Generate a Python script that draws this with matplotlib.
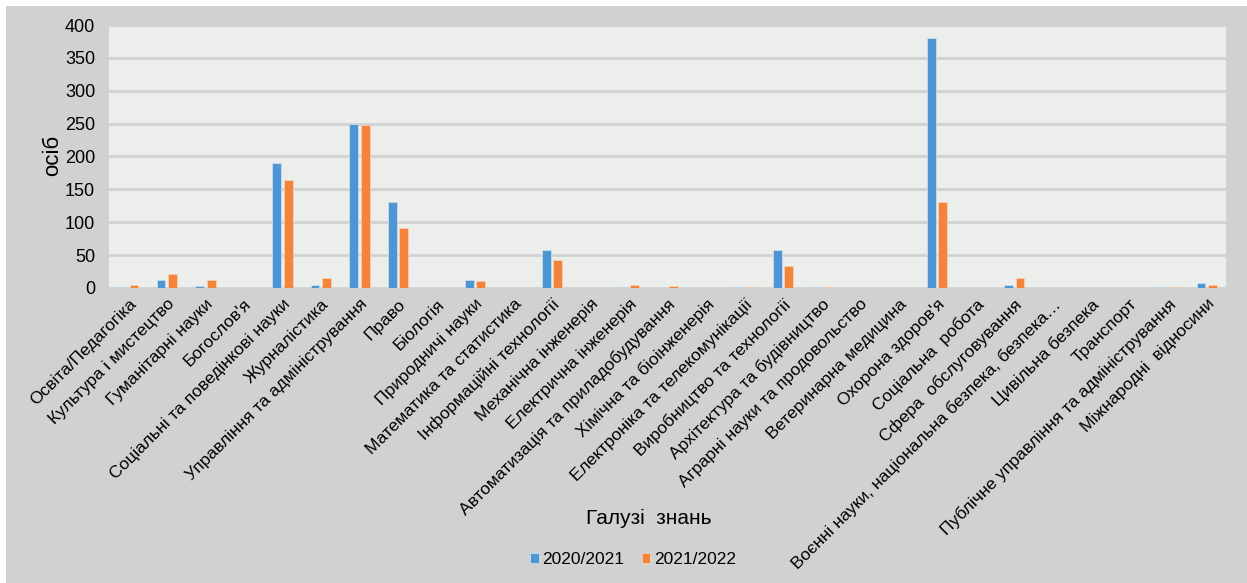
import numpy as np
import matplotlib
matplotlib.use("Agg")
import matplotlib.pyplot as plt

plt.rcParams['font.family'] = ['Liberation Sans', 'DejaVu Sans']

categories = [
    "Освіта/Педагогіка", "Культура і мистецтво", "Гуманітарні науки",
    "Богослов'я", "Соціальні та поведінкові науки", "Журналістика",
    "Управління та адміністрування", "Право", "Біологія", "Природничі науки",
    "Математика та статистика", "Інформаційні технології",
    "Механічна інженерія", "Електрична інженерія",
    "Автоматизація та приладобудування", "Хімічна та біоінженерія",
    "Електроніка та телекомунікації", "Виробництво та технології",
    "Архітектура та будівництво", "Аграрні науки та продовольство",
    "Ветеринарна медицина", "Охорона здоров'я", "Соціальна  робота",
    "Сфера  обслуговування", "Воєнні науки, національна безпека, безпека…",
    "Цивільна безпека", "Транспорт", "Публічне управління та адміністрування",
    "Міжнародні  відносини",
]
y2020 = [1, 12, 3, 0, 190, 5, 250, 131, 0, 12, 0, 58, 0, 1, 0, 0, 1, 58,
         1, 0, 0, 380, 0, 5, 0, 0, 0, 1, 8]
y2021 = [5, 22, 12, 0, 165, 15, 248, 92, 0, 10, 0, 42, 0, 5, 3, 0, 1, 34,
         1, 0, 0, 131, 0, 15, 0, 0, 0, 1, 5]
series_names = ["2020/2021", "2021/2022"]

W, H = 1247, 583
fig = plt.figure(figsize=(W / 100, H / 100), dpi=100)
fig.patch.set_facecolor("white")

# grey chart panel behind everything
bg = fig.add_axes([6 / W, 0, 1 - 6 / W, 1 - 6 / H], zorder=-1)
bg.set_facecolor("#d0d2d1")
bg.set_xticks([])
bg.set_yticks([])
for s in bg.spines.values():
    s.set_visible(False)

ax = fig.add_axes([109 / W, 1 - 288 / H, (1226 - 109) / W, (288 - 25) / H])
ax.set_facecolor("#eceeeb")

x = np.arange(len(categories))
bw = 0.23
ax.bar(x - 0.15, y2020, bw, color="#4e95d4", edgecolor="#c9ddef",
       linewidth=0.6, label=series_names[0], zorder=3)
ax.bar(x + 0.15, y2021, bw, color="#f4843c", edgecolor="#f7cfb3",
       linewidth=0.6, label=series_names[1], zorder=3)

ax.set_xlim(-0.5, len(categories) - 0.5)
ax.set_ylim(0, 400)
ax.set_yticks(range(0, 401, 50))
ax.yaxis.grid(True, color="#d0d2d1", linewidth=2)
ax.set_axisbelow(True)
for s in ax.spines.values():
    s.set_visible(False)
ax.tick_params(axis="both", length=0)
ax.tick_params(axis="y", labelsize=13, pad=10)

ax.set_xticks(x)
ax.set_xticklabels(categories, rotation=45, ha="right",
                   rotation_mode="anchor", fontsize=12.5)
ax.tick_params(axis="x", pad=6)

fig.text(53 / W, 1 - 155 / H, "осіб", fontsize=16, rotation=90,
         ha="center", va="center")
fig.text(649 / W, 1 - 518 / H, "Галузі  знань", fontsize=15,
         ha="center", va="center")

leg = fig.legend(loc="center", bbox_to_anchor=(633 / W, 1 - 560 / H),
                 ncol=2, frameon=False, fontsize=12.5, handlelength=0.5,
                 handleheight=0.5, columnspacing=1.0, handletextpad=0.2)

fig.savefig("out.png", dpi=100)
